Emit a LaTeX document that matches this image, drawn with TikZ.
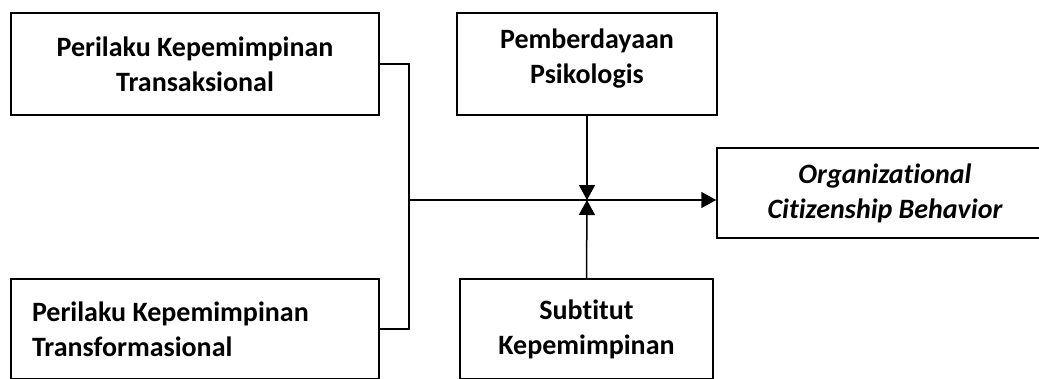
\documentclass[tikz,border=0pt]{standalone}
\usepackage{fontspec}
\setmainfont{Carlito}[Ligatures=NoCommon]
\usetikzlibrary{arrows.meta}
\tikzset{
  box/.style={draw, line width=1.5pt, inner sep=0pt, align=center,
    font=\fontsize{28}{35}\selectfont\bfseries},
  link/.style={line width=1.5pt},
  arrowlink/.style={link, -{Triangle[length=15pt,width=16pt]}}
}
\begin{document}
\begin{tikzpicture}[x=1pt,y=-1pt]
  \useasboundingbox (0,0) rectangle (1039,378);
  \clip (0,0) rectangle (1039,378);
  % left column: the two leadership styles
  \node[box, minimum width=368pt, minimum height=102pt] (A) at (195,64)
    {Perilaku Kepemimpinan\\Transaksional};
  \node[box, minimum width=368pt, minimum height=100pt, align=flush left,
        text width=326pt, inner xsep=21pt] (B) at (195,329)
    {Perilaku Kepemimpinan\\Transformasional};
  % middle column: the two moderators
  \node[box, minimum width=260pt, minimum height=102pt] (P) at (587,64) {};
  \node[box, draw=none] at ([yshift=5pt]P.center) {Pemberdayaan\\Psikologis};
  \node[box, minimum width=253pt, minimum height=100pt] (S) at (586.5,329)
    {Subtitut\\Kepemimpinan};
  % outcome
  \node[box, minimum width=336pt, minimum height=90pt,
        font=\fontsize{28}{35}\selectfont\bfseries\itshape] (O) at (885,193)
    {Organizational\\Citizenship Behavior};
  % connectors
  \coordinate (jx) at (409,200);
  \coordinate (m) at (587,200);
  \draw[link] (A.east) -| (jx) |- (B.east);
  \draw[arrowlink] (jx) -- (jx -| O.west);
  \draw[arrowlink] (P.south) -- (m);
  \draw[arrowlink] (S.north) -- (m);
\end{tikzpicture}
\end{document}
